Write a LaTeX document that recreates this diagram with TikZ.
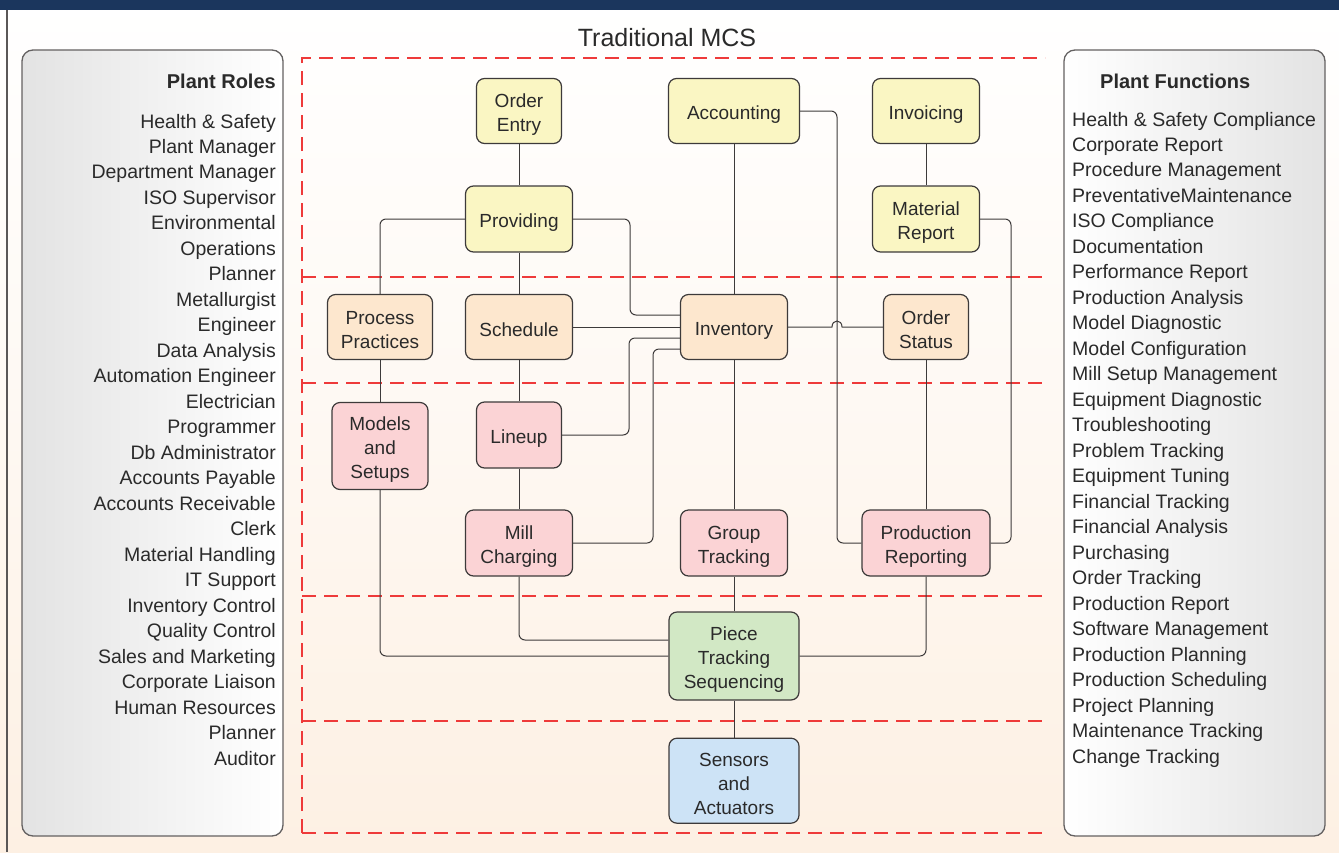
\documentclass[tikz,border=0pt]{standalone}
\usepackage{fontspec}
\setmainfont{Liberation Sans}
\usetikzlibrary{positioning}
\definecolor{navybar}{HTML}{1B365D}
\definecolor{peach}{HTML}{FDF0E3}
\definecolor{lanered}{HTML}{EE3A3A}
\definecolor{wiregrey}{HTML}{3D3A3A}
\definecolor{bizyellow}{HTML}{FAF6C3}
\definecolor{opsorange}{HTML}{FDE7CE}
\definecolor{ctlpink}{HTML}{FBD3D5}
\definecolor{trkgreen}{HTML}{D2E8C5}
\definecolor{ioblue}{HTML}{CDE3F6}
\definecolor{panelgrey}{HTML}{E3E3E3}
\definecolor{inkgrey}{HTML}{2A2A2A}
\tikzstyle{mcsbox} = [draw=wiregrey, line width=1.2pt, rounded corners=8pt,
    inner sep=0pt, align=center, text=inkgrey, font=\fontsize{19}{24}\selectfont,
    text height=20pt]
\tikzstyle{twolines} = [text height=44pt]
\tikzstyle{threelines} = [text height=68pt]
\tikzstyle{bizbox} = [mcsbox, fill=bizyellow]
\tikzstyle{opsbox} = [mcsbox, fill=opsorange]
\tikzstyle{ctlbox} = [mcsbox, fill=ctlpink]
\tikzstyle{trkbox} = [mcsbox, fill=trkgreen]
\tikzstyle{iobox} = [mcsbox, fill=ioblue]
\tikzstyle{wire} = [draw=wiregrey, line width=1pt, rounded corners=6pt]
\tikzstyle{lane} = [draw=lanered, line width=1.2pt, dash pattern=on 14pt off 8pt]
\tikzstyle{panel} = [draw=wiregrey!80, line width=1.3pt, rounded corners=11pt]
\tikzstyle{paneltitle} = [text=inkgrey, inner sep=0pt, font=\fontsize{20}{24}\selectfont\bfseries]
\tikzstyle{panelitem} = [text=inkgrey, inner sep=0pt, font=\fontsize{19.5}{24}\selectfont]

\begin{document}
\begin{tikzpicture}[x=1pt, y=-1pt]
                \useasboundingbox (0,0) rectangle (1339,852);
                \shade[top color=white, bottom color=peach, middle color=white!55!peach] (0,0) rectangle (1339,852);
                \fill[navybar] (0,0) rectangle (1339,10);
                \draw[wiregrey!85, line width=1.5pt] (7,10) -- (7,852);
                \node[text=inkgrey, font=\fontsize{25}{30}\selectfont] (title) at (667,38) {Traditional MCS};

                % plant roles and functions
                \path[panel, left color=panelgrey, right color=white] (22,50) rectangle (283,836);
                \path[panel, left color=white, right color=panelgrey] (1064,50) rectangle (1325,836);
                \node[paneltitle, anchor=base east] (roles) at (276,88) {Plant Roles};
                \node[paneltitle, anchor=base west] (functions) at (1100,88) {Plant Functions};
                \foreach \role [count=\i] in {Health \& Safety, Plant Manager, Department Manager,
                    ISO Supervisor, Environmental, Operations, Planner, Metallurgist, Engineer,
                    Data Analysis, Automation Engineer, Electrician, Programmer, Db Administrator,
                    Accounts Payable, Accounts Receivable, Clerk, Material Handling, IT Support,
                    Inventory Control, Quality Control, Sales and Marketing, Corporate Liaison,
                    Human Resources, Planner, Auditor}
                    \node[panelitem, anchor=base east] (role\i) at (276,{128+(\i-1)*25.48}) {\role};
                \foreach \func [count=\i] in {Health \& Safety Compliance, Corporate Report,
                    Procedure Management, PreventativeMaintenance, ISO Compliance, Documentation,
                    Performance Report, Production Analysis, Model Diagnostic, Model Configuration,
                    Mill Setup Management, Equipment Diagnostic, Troubleshooting, Problem Tracking,
                    Equipment Tuning, Financial Tracking, Financial Analysis, Purchasing,
                    Order Tracking, Production Report, Software Management, Production Planning,
                    Production Scheduling, Project Planning, Maintenance Tracking, Change Tracking}
                    \node[panelitem, anchor=base west] (func\i) at (1072,{126+(\i-1)*25.48}) {\func};

                % levels
                \draw[lane] (302,833) -- (302,58) -- (1045,58);
                \foreach \ly in {277, 383, 596, 721, 833}
                    \draw[lane] (302,\ly) -- (1045,\ly);

                % systems
                \node[bizbox, twolines, minimum width=85, minimum height=65] (oent) at (519,111) {Order\\Entry};
                \node[bizbox, minimum width=131, minimum height=65] (acct) at (734,111) {Accounting};
                \node[bizbox, minimum width=107, minimum height=65] (invo) at (926,111) {Invoicing};
                \node[bizbox, minimum width=107, minimum height=66] (prov) at (519,219) {Providing};
                \node[bizbox, twolines, minimum width=107, minimum height=66] (matr) at (926,219) {Material\\Report};
                \node[opsbox, twolines, minimum width=105, minimum height=65] (proc) at (380,327) {Process\\Practices};
                \node[opsbox, minimum width=107, minimum height=65] (sched) at (519,327) {Schedule};
                \node[opsbox, minimum width=107, minimum height=65] (inv) at (734,327) {Inventory};
                \node[opsbox, twolines, minimum width=85, minimum height=65] (ost) at (926,327) {Order\\Status};
                \node[ctlbox, threelines, minimum width=96, minimum height=87] (models) at (380,446) {Models\\and\\Setups};
                \node[ctlbox, minimum width=85, minimum height=66] (lineup) at (519,435) {Lineup};
                \node[ctlbox, twolines, minimum width=107, minimum height=66] (mill) at (519,543) {Mill\\Charging};
                \node[ctlbox, twolines, minimum width=107, minimum height=66] (grp) at (734,543) {Group\\Tracking};
                \node[ctlbox, twolines, minimum width=128, minimum height=66] (prep) at (926,543) {Production\\Reporting};
                \node[trkbox, threelines, minimum width=130, minimum height=88] (piece) at (734,656) {Piece\\Tracking\\Sequencing};
                \node[iobox, threelines, minimum width=130, minimum height=85, below=37pt of piece] (sens) {Sensors\\and\\Actuators};

                % links
                \draw[wire] (oent) -- (prov);
                \draw[wire] (prov.west) -| (proc.north);
                \draw[wire] (prov.east) -| (630,315) -- ([yshift=12pt]inv.west);
                \draw[wire] (prov) -- (sched);
                \draw[wire] (sched.east) -- (inv.west);
                \draw[wire] (lineup.east) -| (629,338) -- ([yshift=-11pt]inv.west);
                \draw[wire] (mill.east) -| (653,349) -- ([yshift=-22pt]inv.west);
                \draw[wire] (acct) -- (inv);
                \draw[wire] (acct.east) -| (837,543) -- (prep.west);
                \draw[wire, sharp corners] (inv.east) -- (832,327) .. controls (832,319) and (842,319) .. (842,327) -- (ost.west);
                \draw[wire] (inv) -- (grp);
                \draw[wire] (grp) -- (piece);
                \draw[wire] (invo) -- (matr);
                \draw[wire] (matr.east) -| (1011,543) -- (prep.east);
                \draw[wire] (ost) -- (prep);
                \draw[wire] (proc) -- (models);
                \draw[wire] (sched) -- (lineup);
                \draw[wire] (lineup) -- (mill);
                \draw[wire] (models.south) |- (piece.west);
                \draw[wire] (mill.south) |- ([yshift=16pt]piece.west);
                \draw[wire] (prep.south) |- (piece.east);
                \draw[wire] (piece) -- (sens);
            \end{tikzpicture}
\end{document}
